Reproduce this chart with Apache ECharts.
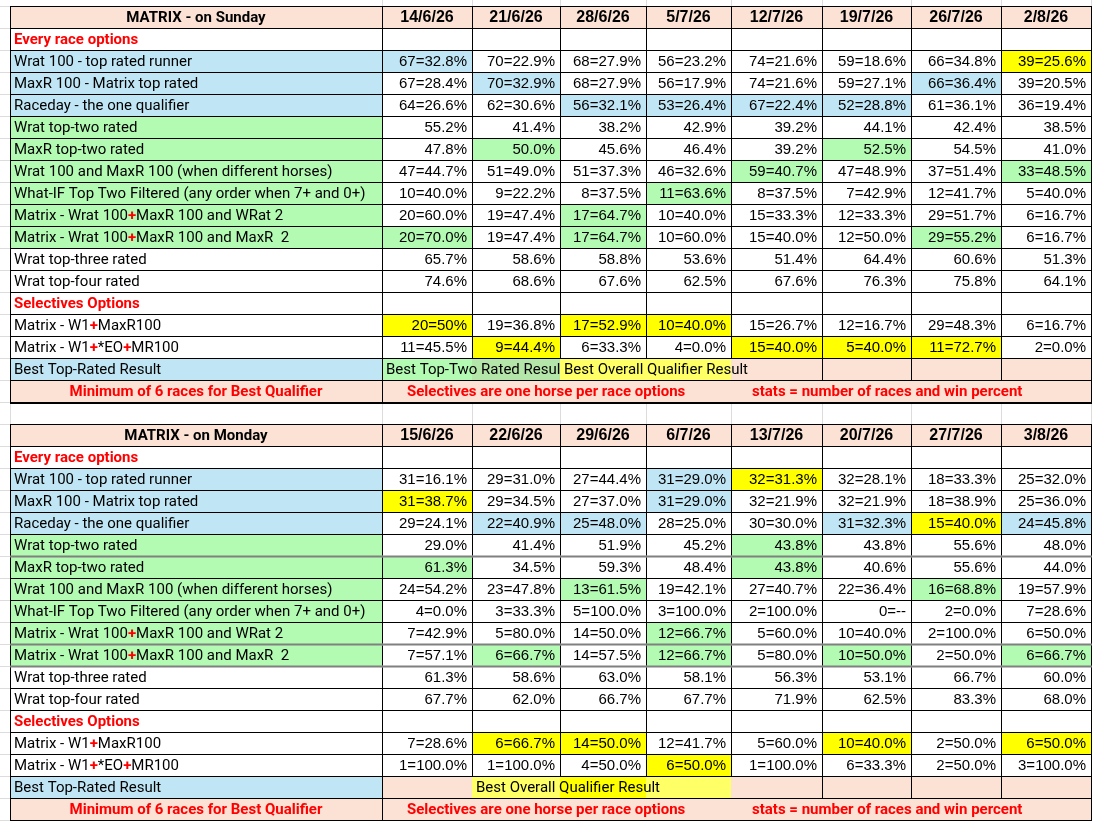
<!DOCTYPE html>
<html>
<head>
<meta charset="utf-8">
<title>MATRIX</title>
<script src="https://cdn.jsdelivr.net/npm/echarts@6/dist/echarts.min.js"></script>
<style>
html, body { margin: 0; padding: 0; background: #fff; }
#main { width: 1101px; height: 827px; }
</style>
</head>
<body>
<div id="main"></div>
<script>
// ---- data ----
var sundayTitle = 'MATRIX - on Sunday';
var mondayTitle = 'MATRIX - on Monday';
var sundayDates = ['14/6/26', '21/6/26', '28/6/26', '5/7/26', '12/7/26', '19/7/26', '26/7/26', '2/8/26'];
var mondayDates = ['15/6/26', '22/6/26', '29/6/26', '6/7/26', '13/7/26', '20/7/26', '27/7/26', '3/8/26'];

var sectionLabels = ['Every race options', 'Selectives Options'];
var rowLabels = [
	'Wrat 100 - top rated runner',
	'MaxR 100 - Matrix top rated',
	'Raceday - the one qualifier',
	'Wrat top-two rated',
	'MaxR top-two rated',
	'Wrat 100 and MaxR 100 (when different horses)',
	'What-IF Top Two Filtered (any order when 7+ and 0+)',
	'Matrix - Wrat 100+MaxR 100 and WRat 2',
	'Matrix - Wrat 100+MaxR 100 and MaxR  2',
	'Wrat top-three rated',
	'Wrat top-four rated',
	// selectives
	'Matrix - W1+MaxR100',
	'Matrix - W1+*EO+MR100'
];
var bestLabel = 'Best Top-Rated Result';
var bestTwoText = 'Best Top-Two Rated Result';
var bestOverallText = 'Best Overall Qualifier Result';
var footerTexts = ['Minimum of 6 races for Best Qualifier', 'Selectives are one horse per race options', 'stats = number of races and win percent'];

var sundayValues = [
	['67=32.8%', '70=22.9%', '68=27.9%', '56=23.2%', '74=21.6%', '59=18.6%', '66=34.8%', '39=25.6%'],
	['67=28.4%', '70=32.9%', '68=27.9%', '56=17.9%', '74=21.6%', '59=27.1%', '66=36.4%', '39=20.5%'],
	['64=26.6%', '62=30.6%', '56=32.1%', '53=26.4%', '67=22.4%', '52=28.8%', '61=36.1%', '36=19.4%'],
	['55.2%', '41.4%', '38.2%', '42.9%', '39.2%', '44.1%', '42.4%', '38.5%'],
	['47.8%', '50.0%', '45.6%', '46.4%', '39.2%', '52.5%', '54.5%', '41.0%'],
	['47=44.7%', '51=49.0%', '51=37.3%', '46=32.6%', '59=40.7%', '47=48.9%', '37=51.4%', '33=48.5%'],
	['10=40.0%', '9=22.2%', '8=37.5%', '11=63.6%', '8=37.5%', '7=42.9%', '12=41.7%', '5=40.0%'],
	['20=60.0%', '19=47.4%', '17=64.7%', '10=40.0%', '15=33.3%', '12=33.3%', '29=51.7%', '6=16.7%'],
	['20=70.0%', '19=47.4%', '17=64.7%', '10=60.0%', '15=40.0%', '12=50.0%', '29=55.2%', '6=16.7%'],
	['65.7%', '58.6%', '58.8%', '53.6%', '51.4%', '64.4%', '60.6%', '51.3%'],
	['74.6%', '68.6%', '67.6%', '62.5%', '67.6%', '76.3%', '75.8%', '64.1%'],
	['20=50%', '19=36.8%', '17=52.9%', '10=40.0%', '15=26.7%', '12=16.7%', '29=48.3%', '6=16.7%'],
	['11=45.5%', '9=44.4%', '6=33.3%', '4=0.0%', '15=40.0%', '5=40.0%', '11=72.7%', '2=0.0%']
];
var mondayValues = [
	['31=16.1%', '29=31.0%', '27=44.4%', '31=29.0%', '32=31.3%', '32=28.1%', '18=33.3%', '25=32.0%'],
	['31=38.7%', '29=34.5%', '27=37.0%', '31=29.0%', '32=21.9%', '32=21.9%', '18=38.9%', '25=36.0%'],
	['29=24.1%', '22=40.9%', '25=48.0%', '28=25.0%', '30=30.0%', '31=32.3%', '15=40.0%', '24=45.8%'],
	['29.0%', '41.4%', '51.9%', '45.2%', '43.8%', '43.8%', '55.6%', '48.0%'],
	['61.3%', '34.5%', '59.3%', '48.4%', '43.8%', '40.6%', '55.6%', '44.0%'],
	['24=54.2%', '23=47.8%', '13=61.5%', '19=42.1%', '27=40.7%', '22=36.4%', '16=68.8%', '19=57.9%'],
	['4=0.0%', '3=33.3%', '5=100.0%', '3=100.0%', '2=100.0%', '0=--', '2=0.0%', '7=28.6%'],
	['7=42.9%', '5=80.0%', '14=50.0%', '12=66.7%', '5=60.0%', '10=40.0%', '2=100.0%', '6=50.0%'],
	['7=57.1%', '6=66.7%', '14=57.5%', '12=66.7%', '5=80.0%', '10=50.0%', '2=50.0%', '6=66.7%'],
	['61.3%', '58.6%', '63.0%', '58.1%', '56.3%', '53.1%', '66.7%', '60.0%'],
	['67.7%', '62.0%', '66.7%', '67.7%', '71.9%', '62.5%', '83.3%', '68.0%'],
	['7=28.6%', '6=66.7%', '14=50.0%', '12=41.7%', '5=60.0%', '10=40.0%', '2=50.0%', '6=50.0%'],
	['1=100.0%', '1=100.0%', '4=50.0%', '6=50.0%', '1=100.0%', '6=33.3%', '2=50.0%', '3=100.0%']
];

// ---- highlight / layout (styles kept apart from the data) ----
// b = blue, g = green, y = yellow, . = none
var sundayMarks = ['b......y', '.b....b.', '..bbbb..', '........', '.g...g..', '....g..g', '...g....',
	'..g.....', 'g.g...g.', '........', '........', 'y.yy....', '.y..yyy.'];
var mondayMarks = ['...by...', 'y..b....', '.bb..byb', '....g...', 'g...g...', '..g...g.', '........',
	'...g....', '.g.g.g.g', '........', '........', '.yy..y.y', '...y....'];
var labelMarks = 'bbbgggggg....';
// best row: g green, G dull green, l pale yellow, y yellow, p pink
var sundayBestFill = 'gGllpppp';
var mondayBestFill = 'plylpppp';
var sundayBestText = [bestTwoText, '', bestOverallText, '', '', '', '', ''];
var mondayBestText = ['', bestOverallText, '', '', '', '', '', ''];
var sundayHeavy = [];
var mondayHeavy = [6, 10, 11];

// column edges of the sheet (axis units); -10..0 is the sheet margin
var colEdges = [0, 372, 462, 550, 636, 721, 812, 901, 991, 1081];
// rows: 0..17 Sunday, 18 blank, 19..36 Monday; the axis shows a sliver of sheet above and below
var rowMin = -6 / 22, rowMax = 37 + 7 / 22;

var C = {
	pink: '#fbe2d5', blue: '#c0e6f5', green: '#b3fbb3', dullGreen: '#b5e6a9',
	yellow: '#ffff00', pale: '#ffff66', white: '#ffffff', red: '#ff0000',
	line: '#000000', sheet: '#dcdcdc', heavy: '#808080'
};
var fillOf = { b: C.blue, g: C.green, G: C.dullGreen, y: C.yellow, l: C.pale, p: C.pink, '.': C.white };

var FONT_LABEL = 'Roboto, "Liberation Sans", sans-serif';
var FONT_NUM = '"Liberation Sans", Arial, sans-serif';

function edgeX(i) { return i < 0 ? -10 : colEdges[i]; }

var cells = [];
function addCell(c0, c1, row, opt) {
	var o = { c0: c0, c1: c1, row: row, sides: 'tblr' };
	for (var k in opt) o[k] = opt[k];
	cells.push(o);
}

// faint spreadsheet grid around the tables
for (var m = -1; m < 38; m++) addCell(-1, -1, m, { sides: 'b', stroke: C.sheet });
for (var t = 0; t < 9; t++) addCell(t, t, -1, { sides: 'r', stroke: C.sheet });

function buildTable(base, title, dates, values, marks, bestFill, bestText, heavy) {
	// header
	addCell(0, 0, base, { fill: C.pink, text: title, kind: 'title' });
	for (var i = 0; i < 8; i++) addCell(i + 1, i + 1, base, { fill: C.pink, text: dates[i], kind: 'date' });

	var r = base + 1;
	var labelIdx = 0;
	for (var s = 0; s < 2; s++) {
		addCell(0, 0, r, { fill: C.white, text: sectionLabels[s], kind: 'section' });
		for (i = 0; i < 8; i++) addCell(i + 1, i + 1, r, { fill: C.white });
		r++;
		var n = s === 0 ? 11 : 2;
		for (var j = 0; j < n; j++, labelIdx++, r++) {
			var hv = heavy.indexOf(r - base) >= 0;
			addCell(0, 0, r, { fill: fillOf[labelMarks[labelIdx]], text: rowLabels[labelIdx], kind: 'label', heavy: hv });
			for (i = 0; i < 8; i++) {
				addCell(i + 1, i + 1, r, { fill: fillOf[marks[labelIdx][i]], text: values[labelIdx][i], kind: 'value', heavy: hv });
			}
		}
	}

	// best row
	addCell(0, 0, r, { fill: C.blue, text: bestLabel, kind: 'label' });
	for (i = 0; i < 8; i++) {
		var clip = null;
		if (bestText[i]) {
			var k = i + 1;
			while (k < 8 && !bestText[k]) k++;
			clip = k < 8 ? k : null;
		}
		addCell(i + 1, i + 1, r, {
			fill: fillOf[bestFill[i]], text: bestText[i], kind: 'best',
			clipTo: clip, sides: i >= 4 ? 'tbr' : 'tb'
		});
	}
	r++;

	// footer
	var first = base === 0;
	addCell(0, 0, r, { fill: C.pink, text: footerTexts[0], kind: 'footerC', bottom2: first });
	addCell(1, 8, r, { fill: C.pink, sides: 'tbr', bottom2: first });
	addCell(1, 1, r, { text: footerTexts[1], kind: 'footer', pad: 25, sides: '' });
	addCell(5, 5, r, { text: footerTexts[2], kind: 'footer', pad: 21, sides: '' });
}

buildTable(0, sundayTitle, sundayDates, sundayValues, sundayMarks, sundayBestFill, sundayBestText, sundayHeavy);
// blank spreadsheet row between the two tables
for (var g = 0; g < 9; g++) addCell(g, g, 18, { fill: C.white, sides: 'lr', stroke: C.sheet });
buildTable(19, mondayTitle, mondayDates, mondayValues, mondayMarks, mondayBestFill, mondayBestText, mondayHeavy);

var seriesData = cells.map(function (c) {
	return [edgeX(c.c0), edgeX(c.c1 + 1), c.row, c.row + 1];
});

function textStyleOf(c) {
	var st = { text: c.text, fill: '#000', fontSize: 15, fontFamily: FONT_LABEL, fontWeight: 'normal', verticalAlign: 'middle', align: 'left' };
	switch (c.kind) {
		case 'title': st.fontWeight = 'bold'; st.align = 'center'; break;
		case 'date': st.fontWeight = 'bold'; st.fontSize = 16; st.fontFamily = FONT_NUM; st.align = 'center'; break;
		case 'section': st.fontWeight = 'bold'; st.fill = C.red; break;
		case 'value': st.fontFamily = FONT_NUM; st.align = 'right'; break;
		case 'footerC': st.fontWeight = 'bold'; st.fill = C.red; st.align = 'center'; break;
		case 'footer': st.fontWeight = 'bold'; st.fill = C.red; break;
		case 'label':
			if (/^Matrix/.test(c.text)) {
				st.text = c.text.replace(/\+/g, '{r|+}');
				st.rich = { r: { fill: C.red, fontWeight: 'bold', fontSize: 15, fontFamily: FONT_LABEL } };
			}
			break;
	}
	return st;
}

function renderCell(params, api) {
	var c = cells[params.dataIndex];
	var a = api.coord([api.value(0), api.value(2)]);
	var b = api.coord([api.value(1), api.value(3)]);
	var x0 = Math.round(a[0]), x1 = Math.round(b[0]);
	var y0 = Math.round(a[1]), y1 = Math.round(b[1]);
	var kids = [];

	if (c.fill) {
		kids.push({ type: 'rect', z2: 0, shape: { x: x0, y: y0, width: x1 - x0, height: y1 - y0 }, style: { fill: c.fill } });
	}
	var stroke = c.stroke || C.line;
	var zl = stroke === C.line ? 6 : 4;
	function seg(xa, ya, xb, yb, col, w, z) {
		kids.push({ type: 'line', z2: z, shape: { x1: xa, y1: ya, x2: xb, y2: yb }, style: { stroke: col, lineWidth: w } });
	}
	var sd = c.sides;
	if (sd.indexOf('t') >= 0) seg(x0, y0 + 0.5, x1 + 1, y0 + 0.5, stroke, 1, zl);
	if (sd.indexOf('b') >= 0) seg(x0, y1 + 0.5, x1 + 1, y1 + 0.5, stroke, 1, zl);
	if (sd.indexOf('l') >= 0) seg(x0 + 0.5, y0, x0 + 0.5, y1 + 1, stroke, 1, zl);
	if (sd.indexOf('r') >= 0) seg(x1 + 0.5, y0, x1 + 0.5, y1 + 1, stroke, 1, zl);
	if (c.heavy) seg(x0, y0 + 0.5, x1 + 1, y0 + 0.5, C.heavy, 2, 7);
	if (c.bottom2) seg(x0, y1 + 1, x1 + 1, y1 + 1, C.line, 2, 7);

	if (c.text) {
		var st = textStyleOf(c);
		var tx = st.align === 'right' ? x1 - 5 : st.align === 'center' ? (x0 + x1) / 2 : x0 + (c.pad || 4);
		var txt = { type: 'text', z2: 20, x: tx, y: (y0 + y1) / 2 + 1, style: st };
		if (c.clipTo != null) {
			var edge = api.coord([colEdges[c.clipTo + 1], api.value(2)])[0];
			kids.push({
				type: 'group', z2: 20,
				clipPath: { type: 'rect', shape: { x: x0, y: y0, width: Math.round(edge) - x0, height: y1 - y0 } },
				children: [txt]
			});
		} else {
			kids.push(txt);
		}
	}
	return { type: 'group', children: kids };
}

var myChart = echarts.init(document.getElementById('main'), null, { renderer: 'canvas' });
myChart.setOption({
	animation: false,
	backgroundColor: '#ffffff',
	grid: { left: 0, top: 0, width: 1101, height: 827 },
	xAxis: { type: 'value', min: -10, max: 1091, show: false },
	yAxis: { type: 'value', min: rowMin, max: rowMax, inverse: true, show: false },
	series: [{
		type: 'custom',
		silent: true,
		clip: false,
		renderItem: renderCell,
		encode: { x: [0, 1], y: [2, 3] },
		data: seriesData
	}]
});
window.onresize = myChart.resize;
</script>
</body>
</html>
